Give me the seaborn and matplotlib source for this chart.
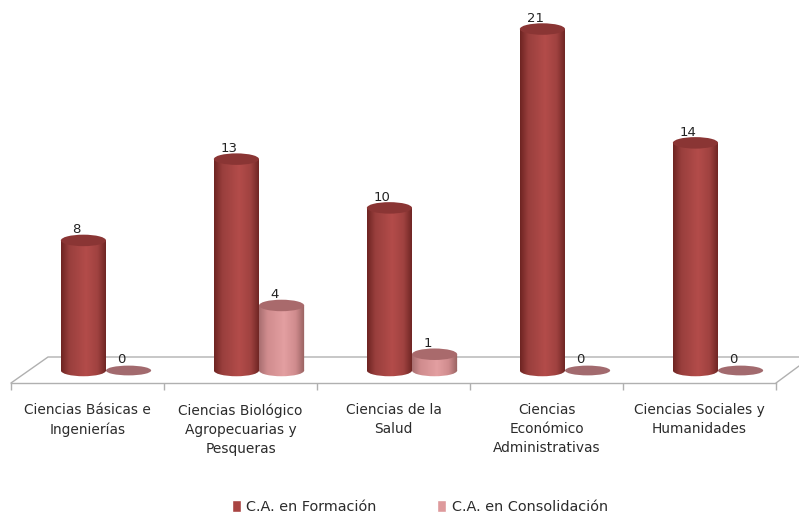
import numpy as np
import pandas as pd
import seaborn as sns
import matplotlib
matplotlib.use("Agg")
import matplotlib.pyplot as plt
from matplotlib.colors import LinearSegmentedColormap
from matplotlib.patches import Ellipse, PathPatch
from matplotlib.path import Path
from matplotlib.transforms import Affine2D

areas = ["Ciencias Básicas e\nIngenierías",
         "Ciencias Biológico\nAgropecuarias y\nPesqueras",
         "Ciencias de la\nSalud",
         "Ciencias\nEconómico\nAdministrativas",
         "Ciencias Sociales y\nHumanidades"]
en_formacion = [8, 13, 10, 21, 14]
en_consolidacion = [0, 4, 1, 0, 0]
series_names = ["C.A. en Formación", "C.A. en Consolidación"]

df = pd.DataFrame({
    "area": areas * 2,
    "valor": en_formacion + en_consolidacion,
    "serie": [series_names[0]] * 5 + [series_names[1]] * 5,
})

sns.set_theme(style="white")
plt.rcParams["font.family"] = ["DejaVu Sans"]

W, H = 799, 515
PX_UNIT = 16.26   # pixels per unit
BASE_Y = 370.5    # pixel row of value 0
STEP = 153        # pixels per category
FIRST = 106       # pixel column of first category
AX_L, AX_B = 11, 383

fig = plt.figure(figsize=(W / 100, H / 100), dpi=100, facecolor="white")
ax = fig.add_axes([AX_L / W, (H - AX_B) / H, (W - AX_L) / W, AX_B / H])

sns.barplot(data=df, x="area", y="valor", hue="serie",
            palette=["#A94442", "#DE9A9C"], width=0.59, gap=0, saturation=1,
            errorbar=None, ax=ax)


def px_x(p):
    return (p - FIRST) / STEP


def px_y(p):
    return (BASE_Y - p) / PX_UNIT


styles = {
    0: dict(cmap=[(0, "#6E2422"), (0.18, "#993F3D"), (0.55, "#B34C4A"),
                  (0.8, "#A04240"), (1, "#6A2321")],
            top="#8A3534", zero="#8A3534"),
    1: dict(cmap=[(0, "#A86E70"), (0.18, "#D08C8E"), (0.55, "#E39FA1"),
                  (0.8, "#D08C8E"), (1, "#96605F")],
            top="#A96A6C", zero="#A26A6E"),
}
ell_h = 11.5 / PX_UNIT
gradient = np.linspace(0, 1, 128).reshape(1, -1)

for i, cont in enumerate(ax.containers):
    st = styles[i]
    cmap = LinearSegmentedColormap.from_list("cyl", st["cmap"])
    for bar in cont:
        x0, w, h = bar.get_x(), bar.get_width(), bar.get_height()
        xc = x0 + w / 2
        bar.set_alpha(0)
        if h > 0:
            # rectangle + lower ellipse = cylinder body
            rect = Path.unit_rectangle().transformed(
                Affine2D().scale(w, h).translate(x0, 0))
            low = Path.unit_circle().transformed(
                Affine2D().scale(w / 2, ell_h / 2).translate(xc, 0))
            body = PathPatch(Path.make_compound_path(rect, low),
                             transform=ax.transData, fc="none", ec="none")
            ax.add_patch(body)
            im = ax.imshow(gradient, extent=(x0, x0 + w, -ell_h, h),
                           aspect="auto", cmap=cmap, zorder=3 + i,
                           interpolation="bilinear")
            im.set_clip_path(body)
            ax.add_patch(Ellipse((xc, h), w, ell_h, fc=st["top"], ec="none",
                                 zorder=3.5 + i))
        else:
            ax.add_patch(Ellipse((xc, 0), w, ell_h * 0.85, fc=st["zero"],
                                 ec="none", zorder=3 + i))
        ax.annotate(f"{int(h)}", (xc, h), xytext=(-5, 3),
                    textcoords="offset points", ha="center", va="bottom",
                    fontsize=9.5, color="#222222", zorder=6)

ax.set_xlim(px_x(AX_L), px_x(W))
ax.set_ylim(px_y(AX_B), px_y(0))
ax.set_xlabel("")
ax.set_ylabel("")
ax.set_yticks([])

# floor of the 3D chart
floor_c = "#B0B0B0"
ax.plot([px_x(11), px_x(48), px_x(799)], [px_y(383), px_y(357), px_y(357)],
        color=floor_c, lw=1.0, zorder=1, clip_on=False)
ax.plot([px_x(776), px_x(799)], [px_y(383), px_y(366)],
        color=floor_c, lw=1.0, zorder=1, clip_on=False)

for side in ["left", "right", "top"]:
    ax.spines[side].set_visible(False)
ax.spines["bottom"].set_color(floor_c)
ax.spines["bottom"].set_linewidth(1.0)
ax.spines["bottom"].set_bounds(px_x(11), px_x(776))

n = len(areas)
ax.set_xticks([px_x(11 + STEP * k) for k in range(n + 1)], labels=[""] * (n + 1))
ax.set_xticks([px_x(87.5 + STEP * k) for k in range(n)], labels=areas, minor=True)
ax.tick_params(axis="x", which="major", length=5, width=1.0, color=floor_c,
               bottom=True)
ax.tick_params(axis="x", which="minor", length=0, pad=14.5, labelsize=9.9,
               labelcolor="#2B2B2B")
for lab in ax.get_xticklabels(minor=True):
    lab.set_linespacing(1.47)

handles, labels = ax.get_legend_handles_labels()
for hd, c in zip(handles, ["#A94442", "#DE9A9C"]):
    hd.set_alpha(1)
    hd.set_facecolor(c)
ax.legend(handles, labels, loc="center", bbox_to_anchor=(420 / W, 1 - 507 / H),
          bbox_transform=fig.transFigure, ncol=2, frameon=False, fontsize=10.4,
          handlelength=0.6, handleheight=0.8, handletextpad=0.4,
          columnspacing=4.2, labelcolor="#2B2B2B")

fig.savefig("out.png", dpi=100)
